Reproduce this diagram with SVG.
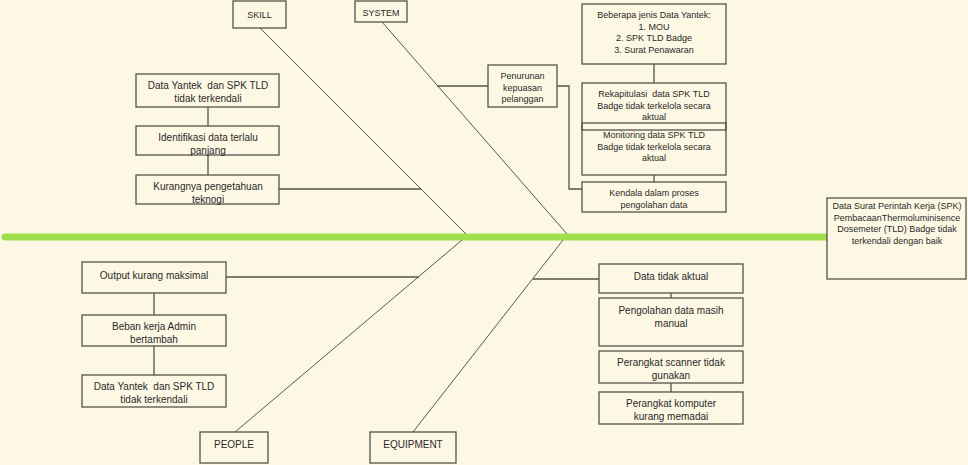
<svg xmlns="http://www.w3.org/2000/svg" width="968" height="465" viewBox="0 0 968 465">
<style>
.bg{fill:#fdf8e4}
.box{fill:#fdf8e4;stroke:#55534a;stroke-width:1.3}
.ln{fill:none;stroke:#55534a;stroke-width:1.3}
.bone{fill:none;stroke:#5a5850;stroke-width:1}
.spine{fill:none;stroke:#9fe04c;stroke-width:7;stroke-linecap:round}
text{font-family:"Liberation Sans",Arial,sans-serif;font-size:10px;fill:#2a2a2a;text-anchor:middle;white-space:pre}
.sm{font-size:9px}
</style>
<rect class="bg" x="0" y="0" width="968" height="465"/>
<g id="connectors">
<line class="spine" x1="5" y1="237" x2="828" y2="237"/>
<line class="bone" x1="260" y1="28" x2="466" y2="234"/>
<line class="bone" x1="382" y1="22" x2="567" y2="234"/>
<line class="bone" x1="235" y1="432" x2="462" y2="240"/>
<line class="bone" x1="413" y1="432" x2="563" y2="240"/>
<line class="ln" x1="208" y1="107" x2="208" y2="126"/>
<line class="ln" x1="208" y1="155" x2="208" y2="175"/>
<line class="ln" x1="279" y1="189" x2="421" y2="189"/>
<line class="ln" x1="154" y1="293" x2="154" y2="315"/>
<line class="ln" x1="154" y1="346" x2="154" y2="375"/>
<line class="ln" x1="226" y1="277" x2="419" y2="277"/>
<line class="ln" x1="671" y1="293" x2="671" y2="298"/>
<line class="ln" x1="671" y1="383" x2="671" y2="392"/>
<line class="ln" x1="533" y1="279" x2="599" y2="279"/>
<line class="ln" x1="437" y1="86" x2="488" y2="86"/>
<polyline class="ln" points="557,86 569,86 569,189 583,189"/>
<line class="ln" x1="654" y1="64" x2="654" y2="83"/>
<line class="ln" x1="654" y1="123" x2="654" y2="130"/>
<line class="ln" x1="654" y1="175" x2="654" y2="182"/>
</g>
<g id="effect">
<rect class="box" x="827" y="198" width="139" height="81"/>
<text class="sm" x="897" y="209">Data Surat Perintah Kerja (SPK)</text>
<text class="sm" x="897" y="220.5">PembacaanThermoluminisence</text>
<text class="sm" x="897" y="232">Dosemeter (TLD) Badge tidak</text>
<text class="sm" x="897" y="243.5">terkendali dengan baik</text>
</g>
<g id="skill">
<rect class="box" x="233" y="1" width="53" height="27"/>
<text class="sm" x="259.5" y="18">SKILL</text>
</g>
<g id="system">
<rect class="box" x="355" y="1" width="52" height="21"/>
<text class="sm" x="381" y="15.5">SYSTEM</text>
</g>
<g id="people">
<rect class="box" x="200" y="432" width="68" height="31"/>
<text x="234" y="448">PEOPLE</text>
</g>
<g id="equipment">
<rect class="box" x="370" y="432" width="86" height="31"/>
<text x="413" y="448">EQUIPMENT</text>
</g>
<g id="skill1">
<rect class="box" x="136" y="74" width="143" height="33"/>
<text x="208" y="89">Data Yantek  dan SPK TLD</text>
<text x="208" y="102">tidak terkendali</text>
</g>
<g id="skill2">
<rect class="box" x="136" y="126" width="143" height="29"/>
<text x="208" y="141">Identifikasi data terlalu</text>
<text x="208" y="154">panjang</text>
</g>
<g id="skill3">
<rect class="box" x="136" y="175" width="143" height="29"/>
<text x="208" y="190">Kurangnya pengetahuan</text>
<text x="208" y="202.5">teknogi</text>
</g>
<g id="people1">
<rect class="box" x="82" y="262" width="144" height="31"/>
<text x="154" y="278.5">Output kurang maksimal</text>
</g>
<g id="people2">
<rect class="box" x="82" y="315" width="144" height="31"/>
<text x="154" y="330">Beban kerja Admin</text>
<text x="154" y="343">bertambah</text>
</g>
<g id="people3">
<rect class="box" x="82" y="375" width="144" height="32"/>
<text x="154" y="389.5">Data Yantek  dan SPK TLD</text>
<text x="154" y="402.5">tidak terkendali</text>
</g>
<g id="equip1">
<rect class="box" x="599" y="264" width="144" height="29"/>
<text x="671" y="280">Data tidak aktual</text>
</g>
<g id="equip2">
<rect class="box" x="599" y="298" width="144" height="48"/>
<text x="671" y="314">Pengolahan data masih</text>
<text x="671" y="327">manual</text>
</g>
<g id="equip3">
<rect class="box" x="599" y="351" width="144" height="32"/>
<text x="671" y="366">Perangkat scanner tidak</text>
<text x="671" y="379">gunakan</text>
</g>
<g id="equip4">
<rect class="box" x="599" y="392" width="144" height="32"/>
<text x="671" y="407">Perangkat komputer</text>
<text x="671" y="420">kurang memadai</text>
</g>
<g id="penurunan">
<rect class="box" x="488" y="65" width="69" height="42"/>
<text class="sm" x="522.5" y="79">Penurunan</text>
<text class="sm" x="522.5" y="90.5">kepuasan</text>
<text class="sm" x="522.5" y="102">pelanggan</text>
</g>
<g id="beberapa">
<rect class="box" x="582" y="4" width="144" height="60"/>
<text class="sm" x="654" y="18">Beberapa jenis Data Yantek:</text>
<text class="sm" x="654" y="29.5">1. MOU</text>
<text class="sm" x="654" y="41">2. SPK TLD Badge</text>
<text class="sm" x="654" y="52.5">3. Surat Penawaran</text>
</g>
<g id="rekapitulasi">
<rect class="box" x="582" y="83" width="144" height="47"/>
<text class="sm" x="654" y="97">Rekapitulasi  data SPK TLD</text>
<text class="sm" x="654" y="108.5">Badge tidak terkelola secara</text>
<text class="sm" x="654" y="120">aktual</text>
</g>
<g id="monitoring">
<rect class="box" x="582" y="123" width="144" height="52" style="fill:none"/>
<text class="sm" x="654" y="138">Monitoring data SPK TLD</text>
<text class="sm" x="654" y="149.5">Badge tidak terkelola secara</text>
<text class="sm" x="654" y="161">aktual</text>
</g>
<g id="kendala">
<rect class="box" x="582" y="182" width="144" height="30"/>
<text class="sm" x="654" y="196">Kendala dalam proses</text>
<text class="sm" x="654" y="207.5">pengolahan data</text>
</g>
</svg>
